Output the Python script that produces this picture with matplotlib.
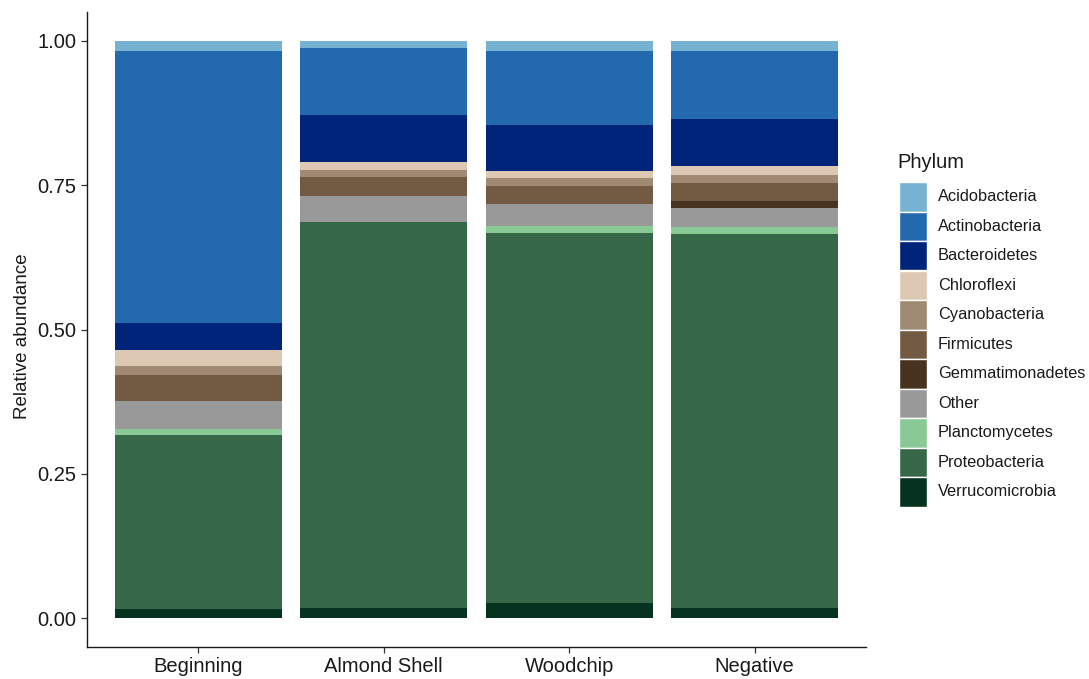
import numpy as np
import matplotlib
matplotlib.use("Agg")
import matplotlib.pyplot as plt
from matplotlib.patches import Rectangle

plt.rcParams['font.family'] = ['Liberation Sans', 'DejaVu Sans']

samples = ["Beginning", "Almond Shell", "Woodchip", "Negative"]

# Stacking order, bottom to top
phyla_bottom_up = ["Verrucomicrobia", "Proteobacteria", "Planctomycetes", "Other",
                   "Gemmatimonadetes", "Firmicutes", "Cyanobacteria", "Chloroflexi",
                   "Bacteroidetes", "Actinobacteria", "Acidobacteria"]

# Relative abundance per phylum, one value per sample
verrucomicrobia = [0.016, 0.018, 0.027, 0.018]
proteobacteria = [0.301, 0.669, 0.641, 0.648]
planctomycetes = [0.011, 0.000, 0.011, 0.011]
other = [0.049, 0.045, 0.039, 0.034]
gemmatimonadetes = [0.000, 0.000, 0.000, 0.012]
firmicutes = [0.045, 0.033, 0.031, 0.031]
cyanobacteria = [0.015, 0.011, 0.013, 0.013]
chloroflexi = [0.027, 0.014, 0.013, 0.016]
bacteroidetes = [0.047, 0.081, 0.079, 0.081]
actinobacteria = [0.471, 0.117, 0.128, 0.118]
acidobacteria = [0.018, 0.012, 0.018, 0.018]

values = {
    "Verrucomicrobia": verrucomicrobia,
    "Proteobacteria": proteobacteria,
    "Planctomycetes": planctomycetes,
    "Other": other,
    "Gemmatimonadetes": gemmatimonadetes,
    "Firmicutes": firmicutes,
    "Cyanobacteria": cyanobacteria,
    "Chloroflexi": chloroflexi,
    "Bacteroidetes": bacteroidetes,
    "Actinobacteria": actinobacteria,
    "Acidobacteria": acidobacteria,
}

colors = {
    "Acidobacteria": "#76b2d2",
    "Actinobacteria": "#2369ad",
    "Bacteroidetes": "#00247a",
    "Chloroflexi": "#dcc8b3",
    "Cyanobacteria": "#a08a73",
    "Firmicutes": "#735a42",
    "Gemmatimonadetes": "#46321f",
    "Other": "#999999",
    "Planctomycetes": "#88c995",
    "Proteobacteria": "#366848",
    "Verrucomicrobia": "#06331f",
}

W, H = 1089, 679
fig = plt.figure(figsize=(W / 100, H / 100), dpi=100)
ax = fig.add_axes([87 / W, 32 / H, 779 / W, 635 / H])

text_col = "#1a1a1a"

x = np.arange(1, len(samples) + 1)
bottom = np.zeros(len(samples))
for ph in phyla_bottom_up:
    v = np.array(values[ph])
    ax.bar(x, v, width=0.9, bottom=bottom, color=colors[ph], linewidth=0)
    bottom += v

ax.set_xlim(0.4, 4.6)
ax.set_ylim(-0.05, 1.05)
ax.set_xticks(x)
ax.set_xticklabels(samples)
ax.set_yticks([0, 0.25, 0.5, 0.75, 1.0])
ax.set_yticklabels(["0.00", "0.25", "0.50", "0.75", "1.00"])
ax.tick_params(axis="both", labelsize=14.5, length=4.5, width=0.9, color="#333333",
               labelcolor=text_col, pad=3)
ax.set_ylabel("Relative abundance", fontsize=13.5, color=text_col)
ax.yaxis.set_label_coords(-0.072, 0.49)
for side in ["top", "right"]:
    ax.spines[side].set_visible(False)
for side in ["left", "bottom"]:
    ax.spines[side].set_linewidth(1.0)
    ax.spines[side].set_color(text_col)

# Legend drawn as keys and labels in pixel layout
legend_order = ["Acidobacteria", "Actinobacteria", "Bacteroidetes", "Chloroflexi",
                "Cyanobacteria", "Firmicutes", "Gemmatimonadetes", "Other",
                "Planctomycetes", "Proteobacteria", "Verrucomicrobia"]
fig.text(897 / W, 1 - 163 / H, "Phylum", fontsize=14.5, color=text_col,
         ha="left", va="center")
key_x, key_w, key_top, step = 898.5, 28, 182, 29.5
for i, ph in enumerate(legend_order):
    top = key_top + i * step
    fig.add_artist(Rectangle((key_x / W, 1 - (top + step) / H), key_w / W, step / H,
                             transform=fig.transFigure, facecolor=colors[ph],
                             edgecolor="white", linewidth=1.0))
    fig.text(938 / W, 1 - (top + step / 2) / H, ph, fontsize=11.8, color=text_col,
             ha="left", va="center")

fig.savefig("out.png", dpi=100)
